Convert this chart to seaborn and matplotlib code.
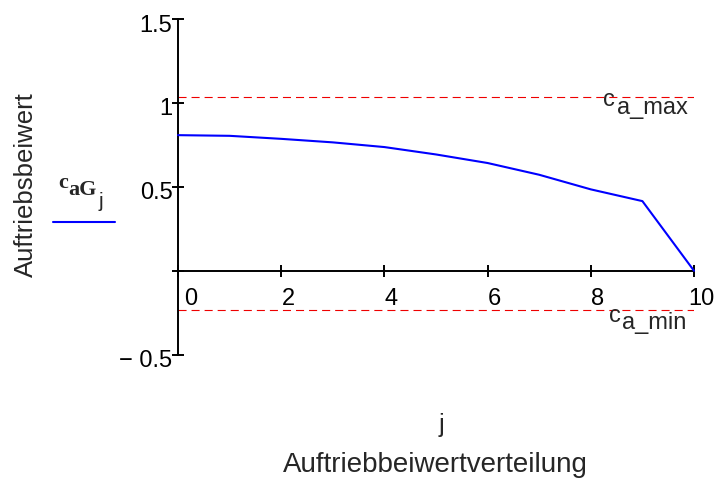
import matplotlib
matplotlib.use("Agg")
import matplotlib.pyplot as plt
import matplotlib.transforms as mtransforms
from matplotlib.lines import Line2D
import seaborn as sns
import pandas as pd

# data
j = [0, 1, 2, 3, 4, 5, 6, 7, 8, 9, 10]
c_aG = [0.808, 0.804, 0.786, 0.765, 0.737, 0.693, 0.642, 0.572, 0.485, 0.415, 0.0]
c_a_max = 1.038
c_a_min = -0.236
x_ticks = [0, 2, 4, 6, 8, 10]
y_ticks = [-0.5, 0, 0.5, 1, 1.5]
y_tick_labels = ["\u2212 0.5", "", "0.5", "1", "1.5"]

sns.set_style("white")
plt.rcParams['font.family'] = ['Liberation Sans', 'DejaVu Sans']
plt.rcParams['lines.scale_dashes'] = False

fig = plt.figure(figsize=(7.14, 4.81), dpi=100)
W, H = 714, 481
x0, x1 = 178, 694
ytop, ybot = 20, 355.7
ax = fig.add_axes([x0 / W, 1 - ybot / H, (x1 - x0) / W, (ybot - ytop) / H])

df = pd.DataFrame({"j": j, "c": c_aG})
sns.lineplot(data=df, x="j", y="c", ax=ax, color="#0000ff", linewidth=1.5, clip_on=False, zorder=3)

red = "#ee0000"
ax.plot([0, 10], [c_a_max, c_a_max], color=red, lw=0.8, dashes=(5.8, 3.6))
ax.plot([0, 10], [c_a_min, c_a_min], color=red, lw=0.8, dashes=(5.8, 3.6))

ax.set_xlim(0, 10)
ax.set_ylim(-0.5, 1.5)
for s in ["top", "right"]:
    ax.spines[s].set_visible(False)
ax.spines["bottom"].set_position(("data", 0))
ax.spines["left"].set_position(("data", 0))
for s in ["bottom", "left"]:
    ax.spines[s].set_color("black")
    ax.spines[s].set_linewidth(1.4)
ax.spines["bottom"].set_bounds(0, 10)

ax.set_xticks(x_ticks)
ax.set_xticklabels([str(t) for t in x_ticks])
ax.set_yticks(y_ticks)
ax.set_yticklabels(y_tick_labels)
ax.tick_params(axis="both", direction="inout", width=1.4, color="black",
               labelsize=17, labelcolor="black", bottom=True, left=True)
ax.tick_params(axis="x", length=8.6, pad=7.6)
ax.tick_params(axis="y", length=8, pad=0)
ax.set_xlabel("")
ax.set_ylabel("")

for i, lab in enumerate(ax.get_xticklabels()):
    dx = 13 if i == 0 else 7
    lab.set_transform(lab.get_transform() + mtransforms.ScaledTranslation(dx / 100, 0, fig.dpi_scale_trans))
for lab in ax.get_yticklabels():
    lab.set_transform(lab.get_transform() + mtransforms.ScaledTranslation(0, -3 / 100, fig.dpi_scale_trans))

# labels of limit lines
ax.text(8.23, 0.986, "c", fontsize=17, ha="left", va="baseline")
ax.text(8.50, 0.939, "a_max", fontsize=17, ha="left", va="baseline")
ax.text(8.36, -0.298, "c", fontsize=17, ha="left", va="baseline")
ax.text(8.60, -0.341, "a_min", fontsize=17, ha="left", va="baseline")

# axis titles
fig.text(26 / W, 1 - 185 / H, "Auftriebsbeiwert", rotation=90, fontsize=18.5, ha="center", va="center")
fig.text(441 / W, 1 - 432 / H, "j", fontsize=18, ha="center", va="baseline")
fig.text(435.5 / W, 1 - 472 / H, "Auftriebbeiwertverteilung", fontsize=20, ha="center", va="baseline")

# legend
serif = ['Liberation Serif', 'DejaVu Serif']
fig.text(58 / W, 1 - 188 / H, "c", fontsize=16, fontweight="bold", family=serif, ha="left", va="baseline")
fig.text(68 / W, 1 - 195 / H, "aG", fontsize=16, fontweight="bold", family=serif, ha="left", va="baseline")
fig.text(99 / W, 1 - 207 / H, "j", fontsize=15, ha="left", va="baseline")
fig.add_artist(Line2D([53 / W, 115 / W], [1 - 223 / H, 1 - 223 / H], color="#0000ff", lw=1.5,
                      transform=fig.transFigure))

fig.savefig("out.png", dpi=100)
